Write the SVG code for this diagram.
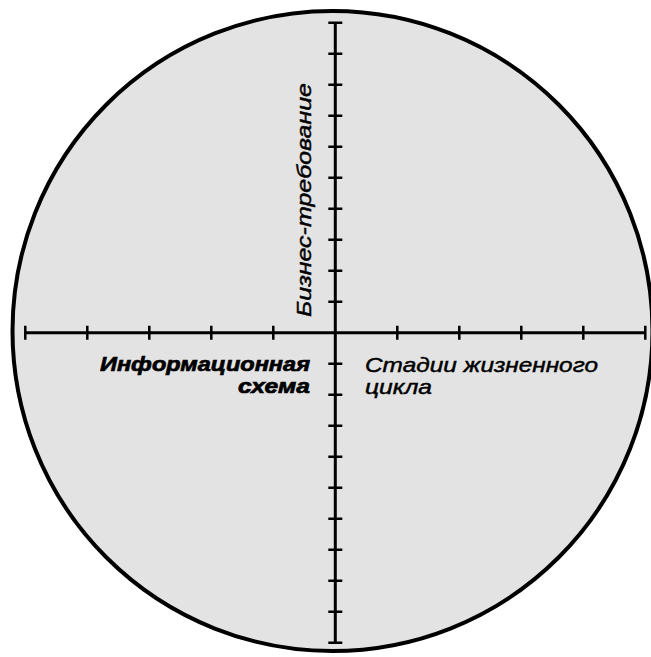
<svg xmlns="http://www.w3.org/2000/svg" width="651" height="657" viewBox="0 0 651 657">
<style>
.lbl{font-family:"Liberation Sans",Arial,sans-serif;font-style:italic;font-size:21px;fill:#000;stroke:#000;stroke-width:0.45}
.b{font-weight:bold;font-size:21px;stroke-width:0.7}
.axis{stroke:#000;stroke-width:3;fill:none}
.tick{stroke:#000;stroke-width:2.5;fill:none}
</style>
<rect width="651" height="657" fill="#fff"/>
<g id="disc">
<circle cx="332.5" cy="331" r="320" fill="#e3e3e3" stroke="#000" stroke-width="4"/>
</g>
<g id="connectors">
<line class="axis" x1="25.3" y1="332.7" x2="645.3" y2="332.7"/>
<line class="axis" x1="335.3" y1="22.7" x2="335.3" y2="642.7"/>
<path class="tick" d="M25.3 325.7v14M87.3 325.7v14M149.3 325.7v14M211.3 325.7v14M273.3 325.7v14M397.3 325.7v14M459.3 325.7v14M521.3 325.7v14M583.3 325.7v14M645.3 325.7v14"/>
<path class="tick" d="M328.3 22.7h14M328.3 53.7h14M328.3 84.7h14M328.3 115.7h14M328.3 146.7h14M328.3 177.7h14M328.3 208.7h14M328.3 239.7h14M328.3 270.7h14M328.3 301.7h14M328.3 363.7h14M328.3 394.7h14M328.3 425.7h14M328.3 456.7h14M328.3 487.7h14M328.3 518.7h14M328.3 549.7h14M328.3 580.7h14M328.3 611.7h14M328.3 642.7h14"/>
</g>
<g id="label-business">
<text class="lbl" transform="translate(311,317) rotate(-90)" x="0" y="0" textLength="234" lengthAdjust="spacingAndGlyphs">Бизнес-требование</text>
</g>
<g id="label-info">
<text class="lbl b" x="310" y="371" text-anchor="end" textLength="210" lengthAdjust="spacingAndGlyphs">Информационная</text>
<text class="lbl b" x="310" y="393" text-anchor="end" textLength="72" lengthAdjust="spacingAndGlyphs">схема</text>
</g>
<g id="label-stages">
<text class="lbl" x="365" y="372" textLength="233" lengthAdjust="spacingAndGlyphs">Стадии жизненного</text>
<text class="lbl" x="365" y="394" textLength="67" lengthAdjust="spacingAndGlyphs">цикла</text>
</g>
</svg>
